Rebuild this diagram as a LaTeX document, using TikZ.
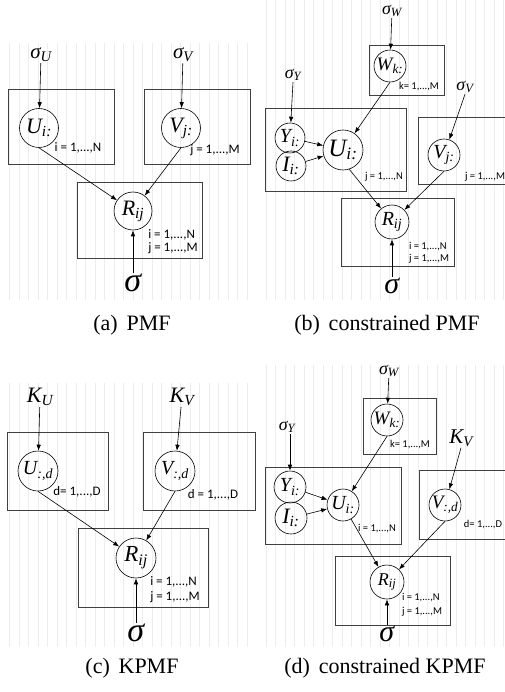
\documentclass[tikz,border=0pt]{standalone}
\usepackage{fontspec}
\usetikzlibrary{arrows.meta}
\newfontfamily\capfont{Liberation Serif}
\newfontfamily\rangefont{Carlito}
\newcommand{\fs}[1]{\fontsize{#1}{#1}\selectfont}
\newcommand{\varlab}[2]{{\capfont\itshape #1\textsubscript{#2}}}

\tikzset{
  var/.style={circle, draw, line width=0.6pt, inner sep=0pt, minimum size=#1},
  hyper/.style={inner sep=1pt},
  plate/.style={draw=black!75, line width=1pt},
  rng/.style={font=\rangefont\fs{#1}, inner sep=0pt, align=left},
  link/.style={-{Latex[length=6pt,width=4.5pt]}, line width=0.6pt},
  bgrid/.style={draw=black!7, line width=0.4pt},
  subcap/.style={font=\capfont\fs{22}, inner sep=0pt}
}

\begin{document}
\begin{tikzpicture}[x=1pt, y=-1pt]
\useasboundingbox (0,0) rectangle (504,692);

% Background grids
\draw[bgrid, step=9.5] (5,43) grid (255,300);
\draw[bgrid, step=9.5] (262,0) grid (504,300);
\draw[bgrid, step=9.5] (5,383) grid (255,647);
\draw[bgrid, step=9.5] (262,365) grid (504,647);

% (a) PMF
\draw[plate] (8,90) rectangle (114,165);
\draw[plate] (144,90) rectangle (250,165);
\draw[plate] (77,183) rectangle (202,258);
\node[hyper, font=\fs{21}] (aSU) at (41,55) {\varlab{σ}{U}};
\node[hyper, font=\fs{21}] (aSV) at (183,55) {\varlab{σ}{V}};
\node[var=39pt, font=\fs{22}] (aU) at (39,128) {\varlab{U}{i:}};
\node[var=39pt, font=\fs{22}] (aV) at (181,128) {\varlab{V}{j:}};
\node[var=38pt, font=\fs{22}] (aR) at (133,211) {\varlab{R}{ij}};
\node[hyper, font=\fs{34}] (aS) at (133,285) {\varlab{σ}{}};
\node[rng=13] (aUn) at (78,148) {i = 1,...,N};
\node[rng=13] (aVn) at (215,150) {j = 1,...,M};
\node[rng=13] (aRn) at (173,242) {i = 1,...,N\\[0pt]j = 1,...,M};
\draw[link] (aSU) -- (aU);
\draw[link] (aSV) -- (aV);
\draw[link] (aU.south) -- (aR);
\draw[link] (aV.south) -- (aR);
\draw[link] (aS) -- (aR);
\node[subcap] (aCap) at (132,325) {(a)\hspace{0.4em}PMF};

% (b) constrained PMF
\draw[plate] (369,46) rectangle (444,96);
\draw[plate] (265,109) rectangle (406,192);
\draw[plate] (418,118) rectangle (515,185);
\draw[plate] (341,199) rectangle (454,266);
\node[hyper, font=\fs{18}] (bSW) at (392,11) {\varlab{σ}{W}};
\node[hyper, font=\fs{18}] (bSY) at (293,75) {\varlab{σ}{Y}};
\node[hyper, font=\fs{18}] (bSV) at (465,87) {\varlab{σ}{V}};
\node[var=32pt, font=\fs{19}] (bW) at (390,66) {\varlab{W}{k:}};
\node[var=30pt, font=\fs{20}] (bY) at (290,138) {\varlab{Y}{i:}};
\node[var=30pt, font=\fs{22}] (bI) at (291,166) {\varlab{I}{i:}};
\node[var=40pt, font=\fs{25}] (bU) at (343,150) {\varlab{U}{i:}};
\node[var=32pt, font=\fs{20}] (bV) at (444,155) {\varlab{V}{j:}};
\node[var=34pt, font=\fs{20}] (bR) at (392,222) {\varlab{R}{ij}};
\node[hyper, font=\fs{30}] (bS) at (392,288) {\varlab{σ}{}};
\node[rng=10.5] (bWn) at (419,87) {k= 1,...,M};
\node[rng=10.5] (bUn) at (384,177) {j = 1,...,N};
\node[rng=10.5] (bVn) at (485,177) {j = 1,...,M};
\node[rng=10.5] (bRn) at (429,253) {i = 1,...,N\\[1.5pt]j = 1,...,M};
\draw[link] (bSW) -- (bW);
\draw[link] (bSY.south) -- (bY);
\draw[link] (bW.south) -- (bU);
\draw[link] (bY) -- (bU);
\draw[link] (bI) -- (bU);
\draw[link] (bSV.south) -- (bV);
\draw[link] (bU.-72) -- (bR);
\draw[link] (bV.south) -- (bR);
\draw[link] (bS) -- (bR);
\node[subcap] (bCap) at (387,325) {(b)\hspace{0.4em}constrained PMF};

% (c) KPMF
\draw[plate] (7,432) rectangle (108,510);
\draw[plate] (143,432) rectangle (255,510);
\draw[plate] (78,528) rectangle (208,607);
\node[hyper, font=\fs{22}] (cKU) at (40,397) {\varlab{K}{U}};
\node[hyper, font=\fs{22}] (cKV) at (182,397) {\varlab{K}{V}};
\node[var=40pt, font=\fs{20}] (cU) at (38,471) {\varlab{U}{:,d}};
\node[var=40pt, font=\fs{20}] (cV) at (175,471) {\varlab{V}{:,d}};
\node[var=40pt, font=\fs{23}] (cR) at (136,558) {\varlab{R}{ij}};
\node[hyper, font=\fs{34}] (cS) at (136,635) {\varlab{σ}{}};
\node[rng=13] (cUn) at (77,492) {d= 1,...,D};
\node[rng=13] (cVn) at (213,495) {d = 1,...,D};
\node[rng=13] (cRn) at (175,590) {i = 1,...,N\\[2pt]j = 1,...,M};
\draw[link] (cKU) -- (cU);
\draw[link] (cKV) -- (cV);
\draw[link] (cU.south) -- (cR);
\draw[link] (cV.south) -- (cR);
\draw[link] (cS) -- (cR);
\node[subcap] (cCap) at (132,668) {(c)\hspace{0.4em}KPMF};

% (d) constrained KPMF
\draw[plate] (363,398) rectangle (436,454);
\draw[plate] (265,467) rectangle (401,544);
\draw[plate] (419,470) rectangle (515,539);
\draw[plate] (335,556) rectangle (450,625);
\node[hyper, font=\fs{18}] (dSW) at (389,371) {\varlab{σ}{W}};
\node[hyper, font=\fs{18}] (dSY) at (287,427) {\varlab{σ}{Y}};
\node[hyper, font=\fs{21}] (dKV) at (461,438) {\varlab{K}{V}};
\node[var=32pt, font=\fs{19}] (dW) at (387,420) {\varlab{W}{k:}};
\node[var=32pt, font=\fs{20}] (dY) at (290,487) {\varlab{Y}{i:}};
\node[var=32pt, font=\fs{22}] (dI) at (291,518) {\varlab{I}{i:}};
\node[var=32pt, font=\fs{20}] (dU) at (343,505) {\varlab{U}{i:}};
\node[var=32pt, font=\fs{19}] (dV) at (445,505) {\varlab{V}{:,d}};
\node[var=34pt, font=\fs{18}] (dR) at (387,582) {\varlab{R}{ij}};
\node[hyper, font=\fs{30}] (dS) at (387,636) {\varlab{σ}{}};
\node[rng=10.5] (dWn) at (410,445) {k= 1,...,M};
\node[rng=10.5] (dUn) at (377,529) {i = 1,...,N};
\node[rng=10.5] (dVn) at (483,525) {d= 1,...,D};
\node[rng=10.5] (dRn) at (422,605) {i = 1,...,N\\[3.5pt]j = 1,...,M};
\draw[link] (dSW) -- (dW);
\draw[link] (dY |- dSY.south) -- (dY);
\draw[link] (dW.south) -- (dU);
\draw[link] (dY) -- (dU);
\draw[link] (dI) -- (dU);
\draw[link] (dKV.south) -- (dV);
\draw[link] (dU.-60) -- (dR);
\draw[link] (dV.south) -- (dR);
\draw[link] (dS) -- (dR);
\node[subcap] (dCap) at (385,668) {(d)\hspace{0.4em}constrained KPMF};
\end{tikzpicture}
\end{document}
